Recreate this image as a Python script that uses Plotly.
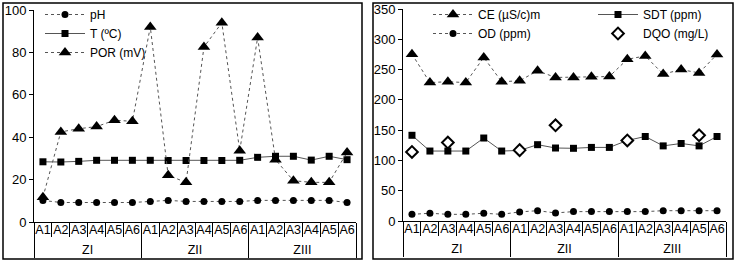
import plotly.graph_objects as go

zones = ["ZI"] * 6 + ["ZII"] * 6 + ["ZIII"] * 6
sites = ["A1", "A2", "A3", "A4", "A5", "A6"] * 3

pH = [10.2, 9.2, 9.2, 9.2, 9.2, 9.2, 9.7, 10.2, 9.7, 9.7, 9.7, 9.7, 10.2, 10.2, 10.2, 10.2, 10.2, 9.2]
T = [28.4, 28.3, 28.6, 29.1, 29.1, 29.1, 29.1, 29.0, 29.0, 29.0, 29.0, 29.1, 30.5, 31.0, 31.0, 29.2, 31.0, 29.4]
POR = [11.7, 42.5, 44, 45, 48, 47.5, 92, 22, 18.7, 82.5, 94, 33.6, 87, 29.4, 19.5, 18.7, 18.7, 32.8]

CE = [275.5, 228.5, 230, 228.5, 270, 230, 231.5, 248, 237, 237, 238, 238.5, 267, 272.5, 242.5, 250, 244.5, 275]
SDT = [141.5, 115.5, 115.5, 115.5, 137, 115.5, 116.5, 126, 120.5, 120, 121.5, 121.5, 133, 139.5, 124, 128, 124, 139.5]
OD = [11, 12.8, 11, 11, 12.8, 11, 15, 17, 13.3, 15.5, 15.5, 15.5, 15.5, 15.5, 17, 17, 17, 17]
DQO = [114, None, 129.5, None, None, None, 117, None, 158, None, None, None, 133, None, None, None, 141.5, None]

FONT = "Arial, Liberation Sans, sans-serif"
LC = "#555555"
x = [zones, sites]

fig = go.Figure()

def add(y, name, symbol, size, dash, xa, ya, legend, mode="lines+markers", open_=False):
    marker = dict(symbol=symbol, size=size, color="black")
    if open_:
        marker = dict(symbol=symbol, size=size, color="white", line=dict(color="black", width=2))
    fig.add_trace(go.Scatter(
        x=x, y=y, name=name, mode=mode, marker=marker,
        line=dict(color=LC, width=1, dash=dash),
        xaxis=xa, yaxis=ya, legend=legend, connectgaps=False,
    ))

add(pH, "pH", "circle", 7, "dot", "x", "y", "legend")
add(T, "T (ºC)", "square", 7, "solid", "x", "y", "legend")
add(POR, "POR (mV)", "triangle-up", 11, "dot", "x", "y", "legend")

add(CE, "CE (µS/c)m", "triangle-up", 11, "dot", "x2", "y2", "legend2")
add(OD, "OD (ppm)", "circle", 7, "dot", "x2", "y2", "legend2")
add(SDT, "SDT (ppm)", "square", 7, "solid", "x2", "y2", "legend3")
add(DQO, "DQO (mg/L)", "diamond", 9, "solid", "x2", "y2", "legend3", mode="markers", open_=True)

W, H = 736, 263

def xd(a, b):
    return [a / W, b / W]

def yd(top, bottom):
    return [(H - bottom) / H, (H - top) / H]

xaxis_common = dict(
    type="multicategory", showline=True, linecolor="black", linewidth=1,
    ticks="outside", ticklen=14, tickcolor="black", tickson="boundaries",
    tickangle=0, ticklabelstandoff=-4, automargin=False,
    showdividers=True, dividercolor="black", dividerwidth=1,
    showgrid=False, range=[-0.5, 17.5], zeroline=False,
    tickfont=dict(family=FONT, size=12.5, color="black"),
)
yaxis_common = dict(
    showline=True, linecolor="black", linewidth=1, ticks="outside", ticklen=4,
    tickcolor="black", showgrid=False, zeroline=False, automargin=False,
    tickfont=dict(family=FONT, size=13, color="black"),
)

legend_common = dict(
    bgcolor="rgba(0,0,0,0)", font=dict(family=FONT, size=12, color="black"),
    xanchor="left", yanchor="top", itemwidth=40, tracegroupgap=0,
)

LEG_Y = 1.0

fig.update_layout(
    template="none",
    width=W, height=H, margin=dict(l=0, r=0, t=0, b=0, autoexpand=False),
    paper_bgcolor="white", plot_bgcolor="white",
    xaxis=dict(domain=xd(34, 356), anchor="y", **xaxis_common),
    yaxis=dict(domain=yd(10, 222), anchor="x", range=[0, 100], dtick=20, **yaxis_common),
    xaxis2=dict(domain=xd(403, 726), anchor="y2", **xaxis_common),
    yaxis2=dict(domain=yd(9, 221), anchor="x2", range=[0, 350], dtick=50, **yaxis_common),
    legend=dict(x=40 / W, y=LEG_Y, **legend_common),
    legend2=dict(x=428 / W, y=LEG_Y, **legend_common),
    legend3=dict(x=593 / W, y=LEG_Y, **legend_common),
    showlegend=True,
    shapes=[
        dict(type="rect", xref="paper", yref="paper", x0=3 / W, x1=362 / W,
             y0=(H - 259) / H, y1=(H - 3) / H, line=dict(color="black", width=1.5)),
        dict(type="rect", xref="paper", yref="paper", x0=373 / W, x1=733 / W,
             y0=(H - 259) / H, y1=(H - 3) / H, line=dict(color="black", width=1.5)),
    ],
)

fig.write_html("out.html", config={"displayModeBar": False},
               post_script="document.body.style.margin='0';")
